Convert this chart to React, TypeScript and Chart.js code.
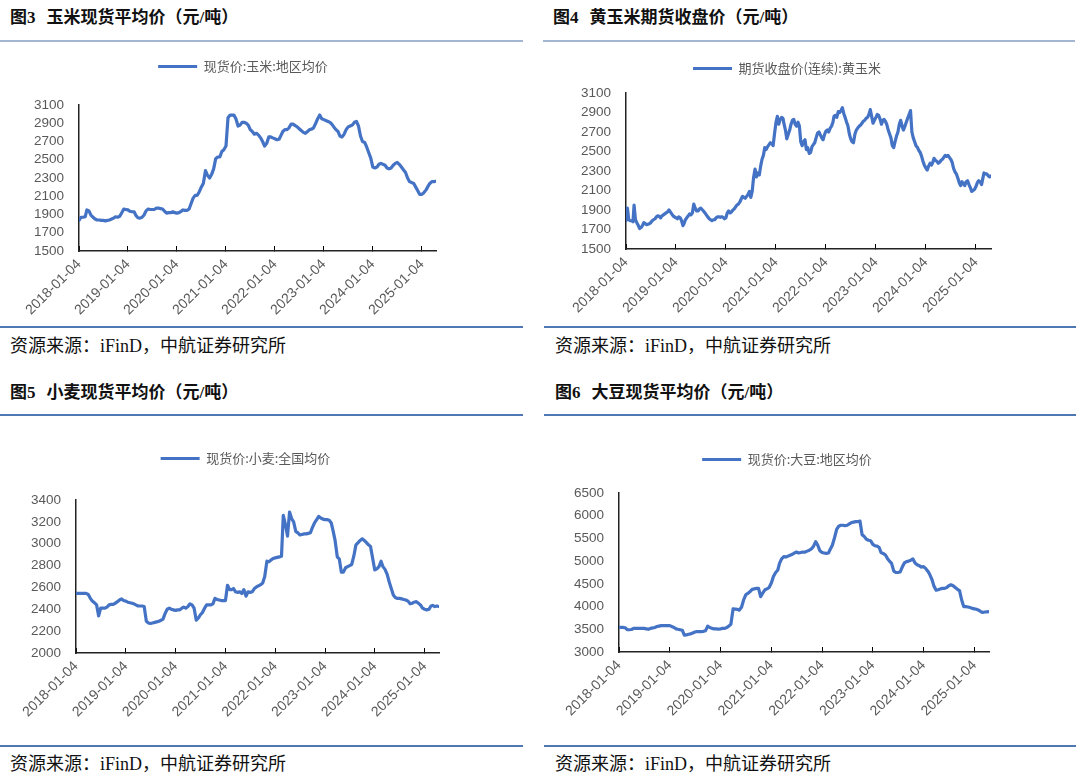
import React, { useEffect, useRef } from 'react';
import { Chart, registerables } from 'chart.js';

Chart.register(...registerables);

// ---------------- data ----------------
const xTickLabels = [
  '2018-01-04', '2019-01-04', '2020-01-04', '2021-01-04',
  '2022-01-04', '2023-01-04', '2024-01-04', '2025-01-04',
];

// sampling grid of observation dates (category axis of every series)
function buildDates(days: number[], endYear: number, endMonth: number): string[] {
  const out: string[] = [];
  for (let y = 2018; y <= endYear; y++) {
    for (let m = 1; m <= 12; m++) {
      if (y === endYear && m > endMonth) break;
      for (const d of days) {
        out.push(`${y}-${String(m).padStart(2, '0')}-${String(d).padStart(2, '0')}`);
      }
    }
  }
  return out;
}
const spotDates = buildDates([4, 19], 2025, 4);
const futuresDates = buildDates([4, 14, 24], 2025, 4);

const cornSpotLabel = '现货价:玉米:地区均价';
const cornSpot = [
  1835, 1870, 1870, 1875, 1950, 1940, 1890, 1870, 1850, 1840, 1840, 1835, 1835, 1830, 1835, 1840, 1850, 1860, 1875, 1870, 1880, 1920, 1960, 1955,
  1950, 1935, 1930, 1930, 1890, 1865, 1860, 1870, 1895, 1940, 1960, 1955, 1955, 1955, 1970, 1970, 1965, 1960, 1935, 1915, 1920, 1920, 1930, 1920,
  1915, 1920, 1935, 1950, 1945, 1945, 1960, 2020, 2080, 2110, 2110, 2150, 2200, 2240, 2380, 2330, 2300, 2340, 2400, 2510, 2530, 2530, 2590, 2610,
  2650, 2960, 2990, 2990, 2990, 2950, 2870, 2880, 2910, 2910, 2900, 2880, 2830, 2810, 2780, 2790, 2770, 2740, 2700, 2650, 2680, 2750, 2750, 2740,
  2730, 2720, 2725, 2770, 2810, 2830, 2830, 2850, 2890, 2890, 2875, 2860, 2840, 2820, 2800, 2790, 2810, 2830, 2835, 2850, 2900, 2950, 2990, 2950,
  2940, 2930, 2920, 2910, 2890, 2860, 2830, 2810, 2760, 2750, 2780, 2830, 2860, 2870, 2880, 2910, 2920, 2870, 2760, 2700, 2690, 2640, 2580, 2520,
  2420, 2410, 2420, 2450, 2460, 2450, 2440, 2410, 2400, 2410, 2440, 2460, 2470, 2450, 2420, 2390, 2360, 2300, 2260, 2250, 2240, 2200, 2160, 2120,
  2120, 2140, 2170, 2210, 2240, 2260, 2260, 2265,
];

const cornFuturesLabel = '期货收盘价(连续):黄玉米';
const cornFutures = [
  1790, 1920, 1800, 1790, 1790, 1780, 1950, 1800, 1770, 1740, 1710, 1720, 1740, 1770, 1760, 1750, 1755, 1760,
  1770, 1790, 1800, 1810, 1830, 1840, 1835, 1820, 1840, 1850, 1860, 1870, 1880, 1900, 1880, 1860, 1840, 1830,
  1820, 1810, 1830, 1820, 1790, 1740, 1760, 1800, 1820, 1840, 1860, 1850, 1870, 1960, 1920, 1890, 1890, 1910,
  1920, 1905, 1890, 1870, 1850, 1830, 1810, 1800, 1790, 1800, 1800, 1820, 1830, 1830, 1825, 1830, 1825, 1810,
  1820, 1870, 1890, 1870, 1880, 1900, 1910, 1930, 1950, 1960, 1980, 2010, 2040, 2030, 2020, 2040, 2060, 2090,
  2030, 2090, 2230, 2320, 2240, 2280, 2260, 2350, 2420, 2460, 2540, 2520, 2550, 2570, 2590, 2580, 2560, 2680,
  2800, 2860, 2780, 2830, 2850, 2840, 2780, 2720, 2630, 2680, 2720, 2780, 2820, 2830, 2780, 2760, 2800, 2760,
  2600, 2560, 2600, 2620, 2520, 2540, 2480, 2490, 2550, 2570, 2590, 2640, 2690, 2700, 2670, 2640, 2620, 2670,
  2710, 2720, 2700, 2740, 2760, 2800, 2860, 2870, 2850, 2910, 2900, 2920, 2950, 2890, 2850, 2800, 2760, 2680,
  2630, 2600, 2590, 2680, 2720, 2740, 2760, 2770, 2790, 2810, 2820, 2840, 2850, 2880, 2930, 2860, 2790, 2820,
  2850, 2880, 2870, 2830, 2780, 2820, 2830, 2810, 2780, 2720, 2680, 2640, 2560, 2540, 2600, 2660, 2700, 2780,
  2820, 2760, 2720, 2760, 2800, 2840, 2880, 2920, 2700, 2640, 2600, 2560, 2540, 2510, 2490, 2450, 2400, 2360,
  2330, 2310, 2350, 2380, 2360, 2390, 2430, 2410, 2400, 2380, 2390, 2410, 2420, 2440, 2460, 2450, 2460, 2440,
  2420, 2390, 2330, 2290, 2270, 2230, 2180, 2150, 2190, 2170, 2150, 2190, 2200, 2160, 2130, 2090, 2100, 2110,
  2140, 2180, 2200, 2190, 2160, 2230, 2280, 2270, 2270, 2250, 2240, 2250,
];

const wheatSpotLabel = '现货价:小麦:全国均价';
const wheatSpot = [
  2545, 2545, 2545, 2545, 2545, 2545, 2535, 2500, 2475, 2460, 2440, 2340, 2410, 2410, 2410, 2420, 2440, 2445, 2445, 2455, 2470, 2485, 2495, 2480,
  2475, 2465, 2460, 2455, 2450, 2440, 2430, 2430, 2430, 2425, 2290, 2275, 2270, 2275, 2280, 2285, 2290, 2300, 2310, 2360, 2400, 2410, 2400, 2395,
  2390, 2395, 2395, 2410, 2420, 2410, 2425, 2450, 2440, 2410, 2300, 2320, 2350, 2370, 2410, 2440, 2440, 2440, 2450, 2500, 2490, 2485, 2480, 2480,
  2480, 2620, 2580, 2580, 2590, 2560, 2555, 2560, 2545, 2580, 2520, 2560, 2555, 2560, 2590, 2605, 2615, 2625, 2640, 2700, 2840, 2835, 2850, 2865,
  2870, 2875, 2880, 2885, 3260, 3180, 3070, 3290, 3230, 3200, 3110, 3100, 3080, 3085, 3090, 3090, 3095, 3100, 3150, 3190, 3220, 3250, 3235, 3225,
  3220, 3220, 3215, 3190, 3120, 3030, 2880, 2860, 2740, 2740, 2780, 2790, 2800, 2810, 2890, 2990, 3010, 3030, 3045, 3030, 3010, 2990, 2975, 2870,
  2760, 2770, 2790, 2840, 2790, 2765, 2720, 2650, 2590, 2530, 2505, 2500, 2500, 2495, 2490, 2485, 2475, 2450, 2455, 2465, 2470, 2455, 2440, 2410,
  2400, 2395, 2400, 2430, 2435, 2425, 2430, 2425,
];

const soySpotLabel = '现货价:大豆:地区均价';
const soySpot = [
  3540, 3540, 3540, 3530, 3490, 3490, 3495, 3520, 3520, 3520, 3520, 3520, 3520, 3510, 3500, 3520, 3530, 3540, 3560, 3570, 3580, 3580, 3580, 3580,
  3580, 3560, 3540, 3510, 3500, 3490, 3480, 3370, 3375, 3390, 3400, 3420, 3440, 3450, 3450, 3450, 3455, 3470, 3570, 3540, 3520, 3510, 3510, 3505,
  3510, 3520, 3520, 3540, 3570, 3610, 3950, 3945, 3940, 3920, 3990, 4150, 4260, 4290, 4330, 4380, 4390, 4400, 4400, 4220, 4300, 4370, 4390, 4420,
  4520, 4660, 4750, 4800, 4950, 5050, 5100, 5090, 5110, 5130, 5150, 5180, 5200, 5180, 5190, 5200, 5200, 5220, 5240, 5270, 5330, 5430, 5350, 5230,
  5190, 5180, 5170, 5180, 5260, 5350, 5520, 5700, 5770, 5790, 5790, 5780, 5790, 5820, 5850, 5860, 5870, 5870, 5880, 5580, 5540, 5480, 5460, 5450,
  5370, 5340, 5330, 5300, 5190, 5170, 5140, 5060, 5000, 4950, 4780, 4750, 4750, 4760, 4870, 4960, 4990, 5000, 5020, 5050, 4960, 4920, 4900, 4870,
  4880, 4840, 4780, 4700, 4600, 4450, 4360, 4370, 4390, 4400, 4400, 4420, 4460, 4480, 4460, 4420, 4380, 4350, 4150, 4000, 4000, 3990, 3980, 3960,
  3950, 3940, 3920, 3890, 3870, 3880, 3885, 3890,
];

const titles = [
  ['图3', '玉米现货平均价（元/吨）'],
  ['图4', '黄玉米期货收盘价（元/吨）'],
  ['图5', '小麦现货平均价（元/吨）'],
  ['图6', '大豆现货平均价（元/吨）'],
];
const sourceText = '资源来源：iFinD，中航证券研究所';

// ---------------- styling / layout ----------------
const LINE_COLOR = '#4472C4';
const AXIS_TEXT = '#595959';
const CJK_FONT = '"Noto Sans CJK SC", sans-serif';
const NUM_FONT = '"Liberation Sans", Arial, sans-serif';

const BASE_DAY = Date.UTC(2018, 0, 4);
function dayIndex(s: string): number {
  const [y, m, d] = s.split('-').map(Number);
  return Math.round((Date.UTC(y, m - 1, d) - BASE_DAY) / 86400000);
}

interface Spec {
  label: string;
  dates: string[];
  values: number[];
  yMin: number;
  yMax: number;
  yStep: number;
  box: { left: number; top: number; width: number; height: number };
  padRight: number;
  yWidth: number;
  xHeight: number;
  legendExtra: number;
  legendShift: number;
}

const specs: Spec[] = [
  {
    label: cornSpotLabel, dates: spotDates, values: cornSpot, yMin: 1500, yMax: 3100, yStep: 200,
    box: { left: 0, top: 50, width: 522, height: 275 }, padRight: 86, yWidth: 79, xHeight: 74, legendExtra: 22, legendShift: 25,
  },
  {
    label: cornFuturesLabel, dates: futuresDates, values: cornFutures, yMin: 1500, yMax: 3100, yStep: 200,
    box: { left: 541, top: 52, width: 535, height: 273 }, padRight: 85, yWidth: 85, xHeight: 76, legendExtra: 8, legendShift: 21,
  },
  {
    label: wheatSpotLabel, dates: spotDates, values: wheatSpot, yMin: 2000, yMax: 3400, yStep: 200,
    box: { left: 0, top: 442, width: 522, height: 298 }, padRight: 83, yWidth: 76, xHeight: 87, legendExtra: 25, legendShift: 26,
  },
  {
    label: soySpotLabel, dates: spotDates, values: soySpot, yMin: 3000, yMax: 6500, yStep: 500,
    box: { left: 541, top: 443, width: 535, height: 297 }, padRight: 87, yWidth: 78, xHeight: 88, legendExtra: 17, legendShift: 22,
  },
];

function ChartPanel({ spec }: { spec: Spec }) {
  const ref = useRef<HTMLCanvasElement>(null);
  useEffect(() => {
    if (!ref.current) return;
    const tickValues = xTickLabels.map(dayIndex);
    const labelByValue = new Map<number, string>();
    xTickLabels.forEach((l) => labelByValue.set(dayIndex(l), l));
    const chart = new Chart(ref.current, {
      type: 'line',
      data: {
        datasets: [
          {
            label: spec.label,
            data: spec.dates.map((d, i) => ({ x: dayIndex(d), y: spec.values[i] })),
            borderColor: LINE_COLOR,
            backgroundColor: LINE_COLOR,
            borderWidth: 3.2,
            pointRadius: 0,
            tension: 0,
            fill: false,
            borderJoinStyle: 'round',
            borderCapStyle: 'round',
          },
        ],
      },
      options: {
        responsive: false,
        maintainAspectRatio: false,
        animation: false,
        events: [],
        layout: { padding: { left: 0, right: spec.padRight, top: 0, bottom: 0 } },
        plugins: {
          tooltip: { enabled: false },
          legend: {
            display: true,
            position: 'top',
            align: 'center',
            labels: {
              boxWidth: 39,
              boxHeight: 3,
              padding: 10,
              color: AXIS_TEXT,
              font: { family: CJK_FONT, size: 13 },
              generateLabels: (c: any) =>
                Chart.defaults.plugins.legend.labels
                  .generateLabels(c)
                  .map((l: any) => ({ ...l, lineWidth: 0, fillStyle: LINE_COLOR, strokeStyle: LINE_COLOR })),
            },
          },
        },
        scales: {
          x: {
            type: 'linear',
            min: 0,
            max: dayIndex(spec.dates[spec.dates.length - 1]),
            afterBuildTicks: (s: any) => {
              s.ticks = tickValues.map((v) => ({ value: v }));
            },
            afterFit: (s: any) => {
              s.height = spec.xHeight;
            },
            ticks: {
              autoSkip: false,
              minRotation: 45,
              maxRotation: 45,
              padding: 10,
              color: AXIS_TEXT,
              font: { family: NUM_FONT, size: 14 },
              callback: (v: any) => labelByValue.get(Number(v)) ?? '',
            },
            grid: {
              display: true,
              drawOnChartArea: false,
              drawTicks: true,
              tickLength: -5,
              tickColor: '#000',
              color: '#000',
              lineWidth: 1,
            },
            border: { display: true, color: '#222', width: 1.5 },
          },
          y: {
            type: 'linear',
            min: spec.yMin,
            max: spec.yMax,
            afterFit: (s: any) => {
              s.width = spec.yWidth;
            },
            ticks: {
              stepSize: spec.yStep,
              autoSkip: false,
              padding: 15,
              color: AXIS_TEXT,
              font: { family: NUM_FONT, size: 13.5 },
              callback: (v: any) => String(v),
            },
            grid: { display: true, drawOnChartArea: false, drawTicks: false },
            border: { display: true, color: '#222', width: 1.5 },
          },
        },
      } as any,
      plugins: [
        {
          id: 'legendPlacement',
          beforeInit(c: any) {
            const orig = c.legend.fit;
            c.legend.fit = function fit() {
              orig.call(this);
              this.height += spec.legendExtra;
            };
          },
          afterLayout(c: any) {
            c.legend.left += spec.legendShift;
            c.legend.right += spec.legendShift;
          },
        },
      ],
    });
    return () => chart.destroy();
  }, [spec]);
  const { left, top, width, height } = spec.box;
  return (
    <canvas
      ref={ref}
      width={width}
      height={height}
      style={{ position: 'absolute', left, top, width, height }}
    />
  );
}

function Title({ num, text, left, cy }: { num: string; text: string; left: number; cy: number }) {
  return (
    <div
      style={{
        position: 'absolute',
        left,
        top: cy - 11,
        height: 22,
        lineHeight: '22px',
        fontFamily: `"Liberation Serif", ${CJK_FONT}`,
        fontWeight: 'bold',
        fontSize: 17,
        color: '#111',
        whiteSpace: 'nowrap',
      }}
    >
      {num}
      <span style={{ marginLeft: 11 }}>{text}</span>
    </div>
  );
}

function Source({ left, cy }: { left: number; cy: number }) {
  return (
    <div
      style={{
        position: 'absolute',
        left,
        top: cy - 12,
        height: 24,
        lineHeight: '24px',
        fontFamily: `"Liberation Serif", ${CJK_FONT}`,
        fontSize: 18,
        color: '#111',
        whiteSpace: 'nowrap',
      }}
    >
      {sourceText}
    </div>
  );
}

function Rule({ left, right, y, color }: { left: number; right: number; y: number; color: string }) {
  return (
    <div
      style={{ position: 'absolute', left, top: y, width: right - left, height: 2, background: color }}
    />
  );
}

export default function App() {
  const light = '#a3b7d2';
  const dark = '#4f77b4';
  return (
    <div style={{ position: 'relative', width: 1080, height: 778, background: '#fff', overflow: 'hidden' }}>
      <style>{'html,body{margin:0;padding:0;background:#fff;}'}</style>
      <Title num={titles[0][0]} text={titles[0][1]} left={10} cy={18} />
      <Title num={titles[1][0]} text={titles[1][1]} left={553} cy={18} />
      <Rule left={0} right={523} y={40} color={light} />
      <Rule left={543} right={1075} y={40} color={light} />

      <ChartPanel spec={specs[0]} />
      <ChartPanel spec={specs[1]} />

      <Rule left={0} right={523} y={326} color={dark} />
      <Rule left={544} right={1076} y={326} color={dark} />
      <Source left={10} cy={346} />
      <Source left={555} cy={346} />

      <Title num={titles[2][0]} text={titles[2][1]} left={10} cy={393} />
      <Title num={titles[3][0]} text={titles[3][1]} left={555} cy={393} />
      <Rule left={0} right={523} y={414} color={dark} />
      <Rule left={544} right={1076} y={414} color={dark} />

      <ChartPanel spec={specs[2]} />
      <ChartPanel spec={specs[3]} />

      <Rule left={0} right={523} y={745} color={dark} />
      <Rule left={544} right={1076} y={745} color={dark} />
      <Source left={10} cy={764} />
      <Source left={555} cy={764} />
    </div>
  );
}
